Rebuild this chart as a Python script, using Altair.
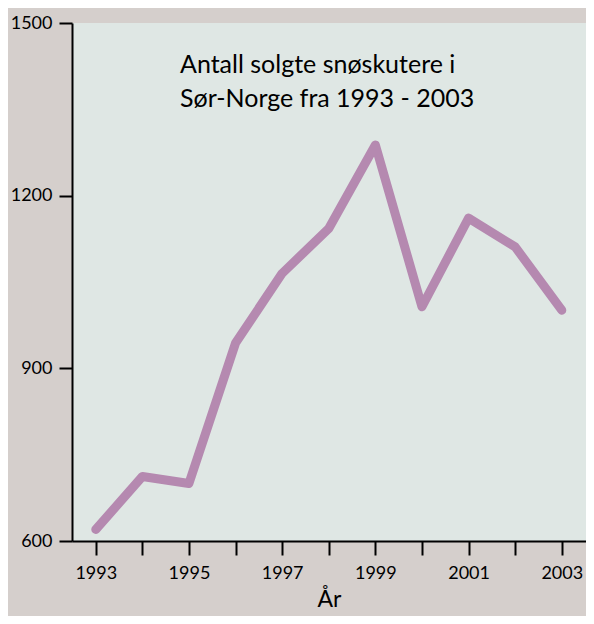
import altair as alt
import pandas as pd

years = [1993, 1994, 1995, 1996, 1997, 1998, 1999, 2000, 2001, 2002, 2003]
sales = [620, 712, 700, 944, 1065, 1143, 1288, 1007, 1161, 1111, 1001]
y_ticks = [600, 900, 1200, 1500]
title_lines = ["Antall solgte snøskutere i\nSør-Norge fra 1993 - 2003"]
x_title = "År"

df = pd.DataFrame({"year": years, "sales": sales})
df_title = pd.DataFrame({"t": title_lines})

FONT = "Lato"

line = alt.Chart(df).mark_line(
    color="#b589b0", strokeWidth=9, strokeCap="round", strokeJoin="round"
).encode(
    x=alt.X("year:Q", title=x_title,
            scale=alt.Scale(domain=[1992.49, 2003.52], nice=False, zero=False),
            axis=alt.Axis(values=years, format="d", grid=False,
                          labelExpr="datum.value % 2 == 1 ? datum.label : ''",
                          tickSize=14, tickWidth=2, domainWidth=2,
                          labelPadding=9, titlePadding=6, labelFlush=False)),
    y=alt.Y("sales:Q", title=None,
            scale=alt.Scale(domain=[600, 1500], nice=False, zero=False),
            axis=alt.Axis(values=y_ticks, format="d", grid=False, tickSize=13,
                          tickWidth=2, domainWidth=2, labelPadding=7,
                          labelFlush=False)),
)

text = alt.Chart(df_title).mark_text(
    align="left", baseline="alphabetic", lineBreak="\n", lineHeight=34,
    fontSize=25, font=FONT, color="black", fontWeight="normal"
).encode(
    x=alt.value(108), y=alt.value(50), text="t:N"
)

chart = (line + text).properties(
    width=514, height=518,
    background="#d5cfcc",
    padding={"left": 64, "top": 15, "right": 0, "bottom": 75},
    autosize=alt.AutoSizeParams(type="none"),
).configure_view(
    fill="#dfe7e4", stroke=None
).configure_axis(
    labelFont=FONT, titleFont=FONT, labelFontSize=18, titleFontSize=23,
    labelColor="black", titleColor="black", domainColor="black", tickColor="black",
    titleFontWeight="normal",
)

chart.save("out.html", embed_options={"renderer": "svg", "actions": False})
